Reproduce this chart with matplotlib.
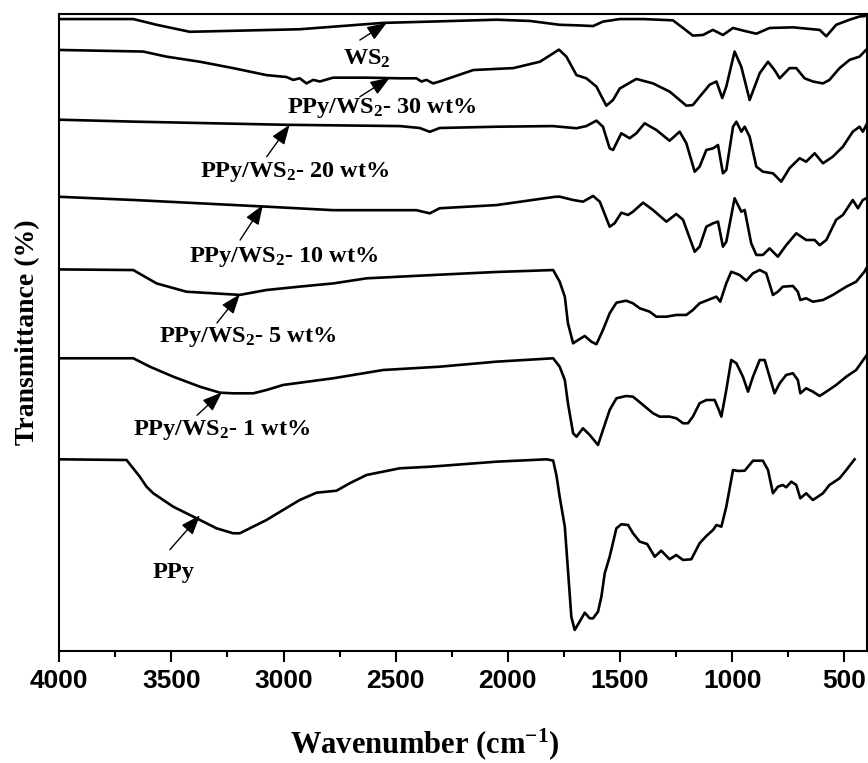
import matplotlib
matplotlib.use("Agg")
import matplotlib.pyplot as plt
from matplotlib.ticker import MultipleLocator

plt.rcParams['mathtext.fontset'] = 'custom'
plt.rcParams['mathtext.rm'] = 'Liberation Serif:bold'
plt.rcParams['mathtext.it'] = 'Liberation Serif:bold'
plt.rcParams['mathtext.bf'] = 'Liberation Serif:bold'

# FTIR spectra, stacked (transmittance in arbitrary offset units)
wn_ws2 = [4000, 3670, 3566, 3418, 2928, 2556, 2346, 2050, 1901, 1769, 1680, 1620, 1576,
          1501, 1397, 1264, 1219, 1175, 1130, 1086, 1041, 996, 952, 892, 833, 729, 610,
          580, 536, 476, 432, 403]
t_ws2 = [99.2, 99.2, 98.3, 97.2, 97.6, 98.6, 98.8, 99.1, 98.9, 98.3, 98.2, 98.1, 98.8,
         99.2, 99.2, 99.0, 97.8, 96.6, 96.7, 97.5, 96.7, 97.8, 97.4, 96.9, 97.8, 97.9, 97.5,
         96.5, 98.3, 99.1, 99.6, 99.7]

wn_30 = [4000, 3626, 3522, 3373, 3225, 3076, 2987, 2957, 2928, 2898, 2868, 2838, 2779,
         2630, 2482, 2408, 2385, 2363, 2333, 2304, 2154, 1976, 1857, 1772, 1739, 1694,
         1650, 1605, 1561, 1531, 1501, 1427, 1353, 1278, 1204, 1175, 1145, 1100, 1070,
         1044, 1026, 989, 959, 922, 877, 840, 811, 788, 744, 714, 677, 640, 595, 566,
         521, 476, 432, 403]
t_30 = [94.35, 94.1, 93.3, 92.5, 91.5, 90.4, 90.1, 89.65, 89.9, 89.1, 89.65, 89.4, 90.0,
        90.0, 89.9, 89.9, 89.4, 89.65, 89.1, 89.4, 91.2, 91.5, 92.5, 94.4, 93.3, 90.4,
        89.9, 88.6, 85.6, 86.5, 88.3, 89.8, 89.1, 87.8, 85.6, 85.7, 87.0, 88.9, 89.4,
        86.8, 88.6, 94.1, 91.7, 86.5, 90.7, 92.5, 91.2, 89.9, 91.5, 91.5, 89.9, 89.4,
        89.1, 89.65, 91.5, 92.8, 93.3, 94.35]

wn_20 = [4000, 3670, 2987, 2482, 2393, 2348, 2304, 2050, 1800, 1769, 1694, 1650, 1605,
         1576, 1546, 1531, 1494, 1457, 1427, 1390, 1338, 1279, 1234, 1204, 1167, 1145,
         1115, 1085, 1063, 1041, 1026, 996, 981, 959, 944, 922, 892, 863, 818, 781, 744,
         699, 670, 632, 595, 551, 506, 462, 432, 417, 402]
t_20 = [83.4, 83.1, 82.6, 82.4, 82.1, 81.5, 82.1, 82.3, 82.4, 82.3, 82.06, 82.4, 83.25,
        82.3, 78.9, 78.65, 81.27, 80.49, 81.27, 82.84, 81.79, 80.1, 81.52, 79.7, 75.24,
        76.03, 78.65, 78.9, 79.43, 74.99, 75.5, 82.3, 83.09, 81.52, 82.3, 80.74, 76.03,
        75.24, 74.99, 73.67, 75.8, 77.35, 76.81, 78.13, 76.56, 77.6, 79.17, 81.52, 82.3,
        81.52, 82.57]

wn_10 = [4000, 3670, 3076, 2779, 2408, 2348, 2304, 2050, 1790, 1769, 1709, 1665, 1620,
         1590, 1546, 1524, 1494, 1464, 1442, 1397, 1353, 1293, 1249, 1219, 1167, 1145,
         1115, 1085, 1063, 1041, 1026, 989, 959, 944, 915, 892, 863, 833, 796, 759, 714,
         670, 632, 610, 580, 536, 506, 462, 439, 417, 402]
t_10 = [71.3, 70.8, 69.75, 69.2, 69.2, 68.7, 69.5, 70.0, 71.3, 71.32, 70.8, 70.53, 71.43,
        70.53, 66.6, 67.14, 68.8, 68.45, 68.96, 70.38, 69.23, 67.4, 68.6, 67.7, 62.68,
        63.47, 66.6, 67.14, 67.4, 63.47, 64.25, 71.07, 68.96, 69.23, 64.0, 62.17, 62.17,
        63.2, 61.9, 63.7, 65.57, 64.52, 64.52, 63.7, 64.52, 67.7, 68.45, 70.8, 69.5,
        70.8, 71.07]

wn_5 = [4000, 3670, 3566, 3433, 3314, 3195, 3076, 2928, 2779, 2630, 2346, 2050, 1798,
        1769, 1746, 1732, 1709, 1687, 1657, 1628, 1605, 1576, 1546, 1516, 1472, 1442,
        1412, 1368, 1338, 1293, 1249, 1204, 1175, 1145, 1100, 1070, 1053, 1026, 1004,
        967, 937, 907, 877, 848, 818, 796, 774, 729, 707, 696, 670, 640, 595, 551, 491,
        447, 410, 403]
t_5 = [59.9, 59.8, 57.7, 56.4, 56.15, 55.9, 56.67, 57.2, 57.7, 58.5, 59.0, 59.5, 59.8,
       57.97, 55.62, 51.44, 48.3, 48.82, 49.45, 48.56, 48.15, 50.39, 53.01, 54.68, 54.99,
       54.58, 53.8, 53.27, 52.48, 52.48, 52.75, 52.75, 53.53, 54.58, 55.21, 55.62, 54.83,
       57.72, 59.54, 59.03, 58.13, 59.29, 59.81, 59.29, 55.89, 56.4, 57.19, 57.3, 56.4,
       55.1, 55.37, 54.83, 55.1, 55.89, 57.19, 57.97, 59.54, 60.0]

wn_1 = [4000, 3670, 3596, 3492, 3373, 3284, 3225, 3135, 3076, 3002, 2779, 2556, 2304,
        2050, 1798, 1769, 1746, 1732, 1709, 1694, 1665, 1635, 1598, 1576, 1546, 1516,
        1472, 1442, 1397, 1353, 1323, 1279, 1249, 1219, 1197, 1175, 1145, 1115, 1078,
        1059, 1048, 1026, 1004, 981, 952, 929, 907, 877, 855, 833, 811, 788, 759, 729,
        707, 696, 670, 640, 610, 580, 536, 491, 447, 410, 403]
t_1 = [45.95, 45.95, 44.63, 43.06, 41.49, 40.55, 40.45, 40.45, 40.97, 41.76, 42.81, 44.11,
       44.63, 45.42, 45.95, 44.63, 42.54, 38.89, 34.18, 33.64, 34.96, 33.91, 32.34, 34.69,
       37.83, 39.67, 40.03, 39.92, 38.62, 37.32, 36.79, 36.79, 36.53, 35.75, 35.75, 36.79,
       38.89, 39.4, 39.4, 37.83, 36.79, 40.97, 45.68, 45.17, 43.06, 40.71, 43.06, 45.68,
       45.68, 43.06, 40.45, 42.02, 43.33, 43.6, 42.54, 40.45, 41.24, 40.71, 40.03, 40.71,
       41.76, 43.06, 44.11, 45.95, 46.3]

wn_ppy = [4000, 3700, 3641, 3611, 3581, 3492, 3373, 3299, 3225, 3195, 3076, 3002, 2928,
          2853, 2764, 2705, 2630, 2482, 2346, 2050, 1828, 1798, 1783, 1769, 1746, 1732,
          1717, 1702, 1680, 1657, 1635, 1620, 1598, 1583, 1568, 1546, 1516, 1494, 1464,
          1442, 1412, 1379, 1345, 1316, 1279, 1249, 1219, 1182, 1145, 1115, 1085, 1070,
          1048, 1026, 996, 974, 944, 907, 863, 840, 818, 796, 774, 759, 736, 714, 696,
          670, 640, 595, 566, 521, 491, 454]
t_ppy = [30.09, 29.98, 27.36, 25.79, 24.76, 22.65, 20.57, 19.26, 18.48, 18.48, 20.57,
         22.14, 23.7, 24.85, 25.16, 26.33, 27.63, 28.68, 28.93, 29.72, 30.09, 29.9, 27.5,
         24.22, 19.51, 12.72, 5.38, 3.3, 4.6, 6.01, 5.13, 5.13, 6.17, 8.52, 12.2, 14.8,
         19.26, 19.89, 19.78, 18.48, 17.16, 16.8, 14.8, 15.75, 14.4, 15.07, 14.29, 14.4,
         16.91, 18.05, 19.0, 19.78, 19.51, 22.65, 28.41, 28.26, 28.3, 29.87, 29.87, 28.41,
         24.76, 25.79, 26.06, 25.7, 26.58, 26.06, 23.97, 24.76, 23.7, 24.76, 26.06, 27.11,
         28.41, 30.09]

spectra = [(wn_ws2, t_ws2), (wn_30, t_30), (wn_20, t_20), (wn_10, t_10),
           (wn_5, t_5), (wn_1, t_1), (wn_ppy, t_ppy)]

# label text, label centre, arrow tail, arrow tip  (wavenumber, transmittance)
labels = [
    (r'WS$_2$', (2629, 93.0), (2660, 95.9), (2540, 98.6)),
    (r'PPy/WS$_2$- 30 wt%', (2562, 85.2), (2660, 87.0), (2526, 90.0)),
    (r'PPy/WS$_2$- 20 wt%', (2951, 75.2), (3075, 77.6), (2973, 82.6)),
    (r'PPy/WS$_2$- 10 wt%', (3000, 61.9), (3194, 64.5), (3092, 70.0)),
    (r'PPy/WS$_2$- 5 wt%', (3160, 49.3), (3297, 51.5), (3195, 56.0)),
    (r'PPy/WS$_2$- 1 wt%', (3275, 34.7), (3386, 37.0), (3275, 40.6)),
    (r'PPy', (3493, 12.4), (3507, 15.9), (3373, 21.3)),
]

fig = plt.figure(figsize=(8.68, 7.63), dpi=100)
ax = fig.add_axes([0.0683, 0.1468, 0.9302, 0.8349])

for wn, t in spectra:
    ax.plot(wn, t, color='black', lw=1.9, solid_joinstyle='round')

for text, pos, tail, tip in labels:
    ax.text(pos[0], pos[1], text, ha='center', va='center', fontsize=17.5,
            family='Liberation Serif', fontweight='bold')
    ax.annotate('', xy=tip, xytext=tail,
                arrowprops=dict(arrowstyle='-|>,head_length=0.8,head_width=0.3',
                                color='black', lw=1.0, mutation_scale=15,
                                shrinkA=0, shrinkB=0))

ax.set_xlim(4000, 400)
ax.set_ylim(0, 100)
ax.set_yticks([])
ax.xaxis.set_major_locator(MultipleLocator(500))
ax.xaxis.set_minor_locator(MultipleLocator(250))
ax.tick_params(axis='x', which='major', direction='out', length=8, width=1.5, pad=5,
               labelsize=19)
ax.tick_params(axis='x', which='minor', direction='out', length=4.5, width=1.5)
for lab in ax.get_xticklabels():
    lab.set_family('Liberation Sans')
    lab.set_fontweight('bold')
for sp in ax.spines.values():
    sp.set_linewidth(1.5)

ax.set_xlabel(r'Wavenumber (cm$^{\mathbf{-1}}$)', family='Liberation Serif',
              fontweight='bold', fontsize=22)
ax.xaxis.set_label_coords(0.453, -0.118)
ax.set_ylabel('Transmittance (%)', family='Liberation Serif', fontweight='bold',
              fontsize=20, labelpad=14)

fig.savefig('out.png', dpi=100)
